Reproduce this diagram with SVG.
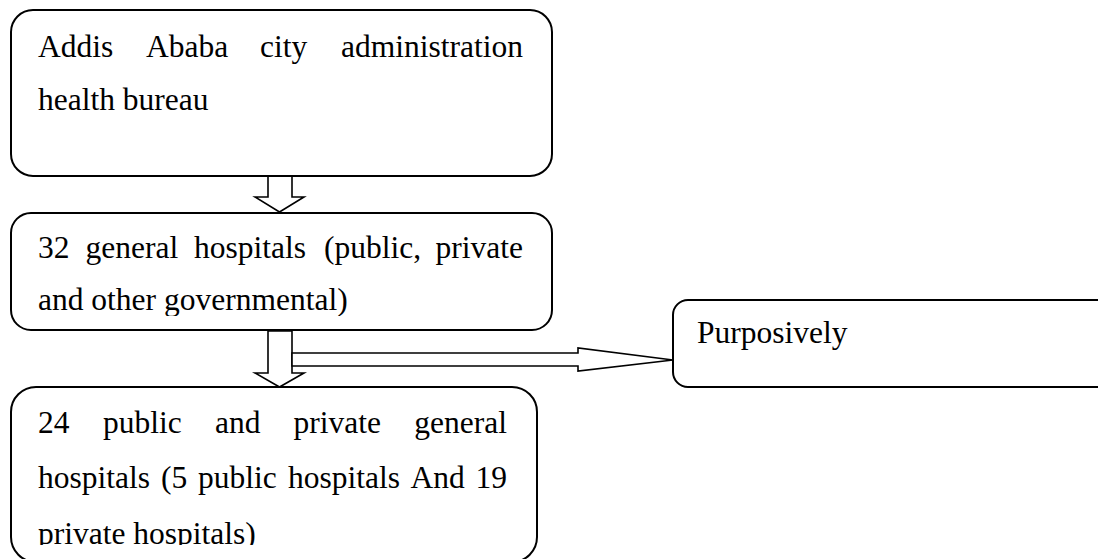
<svg xmlns="http://www.w3.org/2000/svg" width="1098" height="559" viewBox="0 0 1098 559">
<style>
.box{fill:#fff;stroke:#000;stroke-width:2}
.arrow{fill:#fff;stroke:#000;stroke-width:1.6;stroke-linejoin:miter}
.t{font-family:"Liberation Serif","Times New Roman",serif;font-size:31.5px;fill:#000}
</style>
<defs>
<clipPath id="clip2"><rect x="0" y="200" width="560" height="116"/></clipPath>
<clipPath id="clip3"><rect x="0" y="380" width="560" height="165"/></clipPath>
</defs>
<rect width="1098" height="559" fill="#fff"/>
<g id="connectors">
<polygon class="arrow" points="268,176 292,176 292,197 304,197 279.5,212 255,197 268,197"/>
<polygon class="arrow" points="268,331 292,331 292,373 304,373 279.5,387 255,373 268,373"/>
<polygon class="arrow" points="292,353 578,353 578,348 673,360 578,371 578,366 292,366"/>
</g>
<g id="node-health-bureau">
<rect class="box" x="11" y="10" width="541" height="166" rx="22" ry="22"/>
<text class="t" y="57"><tspan x="38">Addis</tspan><tspan x="146">Ababa</tspan><tspan x="260">city</tspan><tspan x="523" text-anchor="end">administration</tspan></text>
<text class="t" x="38" y="110">health bureau</text>
</g>
<g id="node-general-hospitals">
<rect class="box" x="11" y="213" width="541" height="117" rx="20" ry="20"/>
<g clip-path="url(#clip2)">
<text class="t" y="258"><tspan x="38">32</tspan><tspan x="85.5">general</tspan><tspan x="194">hospitals</tspan><tspan x="324">(public,</tspan><tspan x="523" text-anchor="end">private</tspan></text>
<text class="t" x="38" y="310">and other governmental)</text>
</g>
</g>
<g id="node-selected-hospitals">
<rect class="box" x="11" y="387" width="526" height="175" rx="25" ry="25"/>
<g clip-path="url(#clip3)">
<text class="t" y="433"><tspan x="38">24</tspan><tspan x="103">public</tspan><tspan x="215">and</tspan><tspan x="293.5">private</tspan><tspan x="507" text-anchor="end">general</tspan></text>
<text class="t" y="488"><tspan x="38">hospitals</tspan><tspan x="161">(5</tspan><tspan x="198">public</tspan><tspan x="288">hospitals</tspan><tspan x="410.5">And</tspan><tspan x="507" text-anchor="end">19</tspan></text>
<text class="t" x="38" y="544">private hospitals)</text>
</g>
</g>
<g id="node-purposively">
<rect class="box" x="673" y="300" width="460" height="87" rx="15" ry="15"/>
<text class="t" x="697" y="343">Purposively</text>
</g>
</svg>
